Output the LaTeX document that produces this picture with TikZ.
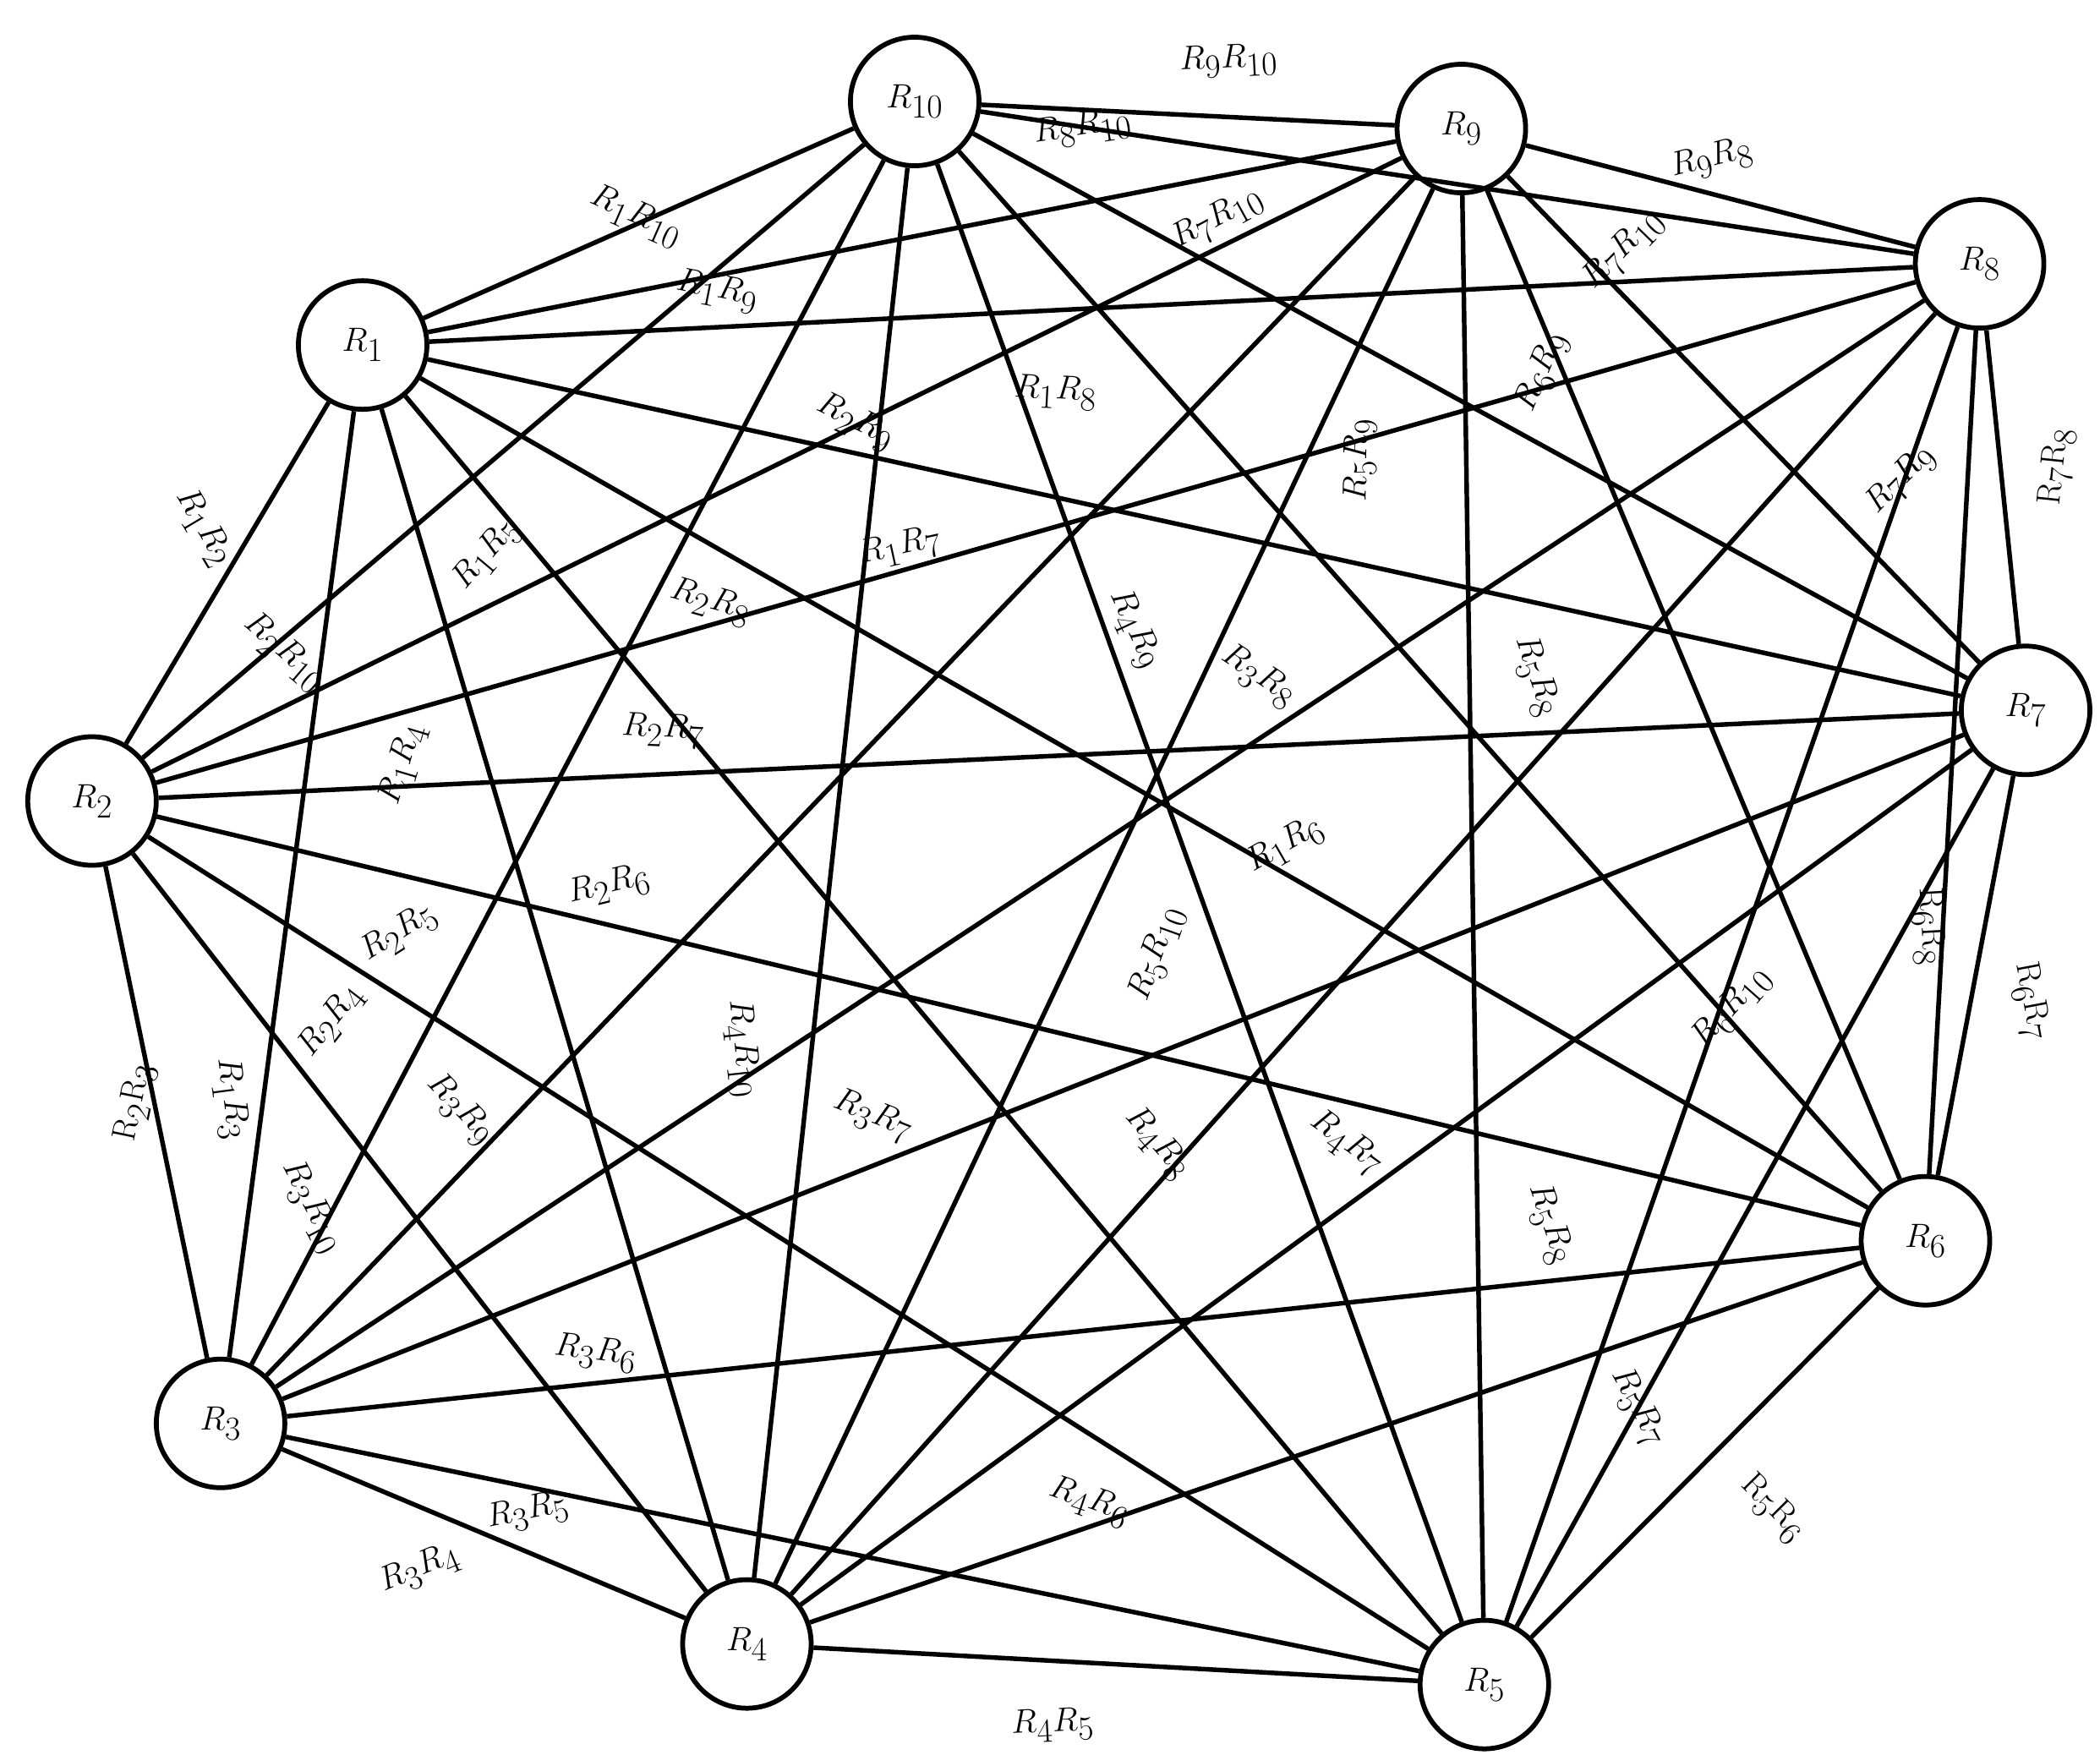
\documentclass[tikz,border=0pt]{standalone}
\usetikzlibrary{calc}
\begin{document}
\begin{tikzpicture}[x=1pt,y=-1pt,
  rnode/.style={circle,draw,line width=3.6pt,minimum size=95pt,inner sep=0pt,font=\fontsize{36}{40}\selectfont},
  lab/.style={inner sep=1pt,font=\fontsize{36}{40}\selectfont},
  edge/.style={line width=3.4pt}]
\useasboundingbox (0,0) rectangle (1552,1297);
\node[rnode] (1) at (268,255) {$R_1$};
\node[rnode] (2) at (68,592) {$R_2$};
\node[rnode] (3) at (163,1052) {$R_3$};
\node[rnode] (4) at (552,1215) {$R_4$};
\node[rnode] (5) at (1097,1245) {$R_5$};
\node[rnode] (6) at (1423,917) {$R_6$};
\node[rnode] (7) at (1497,525) {$R_7$};
\node[rnode] (8) at (1463,195) {$R_8$};
\node[rnode] (9) at (1080,95) {$R_9$};
\node[rnode] (10) at (676,75) {$R_{10}$};
\foreach \a/\bl in {1/{2,3,4,5,6,7,8,9,10},2/{3,4,5,6,7,8,9,10},3/{4,5,6,7,8,9,10},4/{5,6,7,8,9,10},5/{6,7,8,9,10},6/{7,8,9,10},7/{8,9,10},8/{9,10},9/{10}}
  \foreach \b in \bl \draw[edge] (\a) -- (\b);
\newcommand\lab[5]{\path let \p1=($(#4)-(#3)$) in node[lab,rotate={-atan(\y1/\x1)}] at (#1,#2) {$#5$};}
\lab{908}{45}{10}{9}{R_9R_{10}}
\lab{800}{95}{10}{8}{R_8R_{10}}
\lab{900}{162}{10}{7}{R_7R_{10}}
\lab{1265}{118}{9}{8}{R_9R_8}
\lab{1200}{185}{9}{7}{R_7R_{10}}
\lab{1140}{275}{9}{6}{R_6R_9}
\lab{1405}{355}{9}{7}{R_7R_9}
\lab{1520}{345}{8}{7}{\mathrm{R_7R_8}}
\lab{1005}{340}{5}{9}{R_5R_9}
\lab{470}{160}{1}{10}{R_1R_{10}}
\lab{530}{215}{1}{9}{R_1R_9}
\lab{780}{290}{1}{8}{R_1R_8}
\lab{632}{312}{2}{9}{R_2R_9}
\lab{665}{405}{1}{7}{R_1R_7}
\lab{360}{410}{1}{5}{R_1R_5}
\lab{150}{390}{1}{2}{R_1R_2}
\lab{210}{482}{2}{10}{R_2R_{10}}
\lab{525}{445}{2}{8}{R_2R_8}
\lab{838}{465}{4}{9}{R_4R_9}
\lab{930}{500}{3}{8}{R_3R_8}
\lab{1135}{500}{5}{8}{R_5R_8}
\lab{298}{565}{1}{4}{R_1R_4}
\lab{490}{540}{2}{7}{R_2R_7}
\lab{950}{625}{1}{6}{R_1R_6}
\lab{450}{655}{2}{6}{R_2R_6}
\lab{295}{690}{2}{5}{R_2R_5}
\lab{1425}{685}{6}{8}{\mathrm{R_6R_8}}
\lab{1500}{740}{6}{7}{\mathrm{R_6R_7}}
\lab{855}{705}{5}{10}{R_5R_{10}}
\lab{1280}{745}{6}{10}{R_6R_{10}}
\lab{245}{755}{2}{4}{R_2R_4}
\lab{100}{815}{2}{3}{\mathrm{R_2R_3}}
\lab{170}{812}{1}{3}{R_1R_3}
\lab{548}{775}{4}{10}{R_4R_{10}}
\lab{340}{820}{3}{9}{R_3R_9}
\lab{645}{825}{3}{7}{R_3R_7}
\lab{855}{845}{4}{8}{R_4R_8}
\lab{995}{845}{4}{7}{R_4R_7}
\lab{230}{892}{3}{10}{R_3R_{10}}
\lab{1145}{905}{5}{8}{R_5R_8}
\lab{440}{1000}{3}{6}{R_3R_6}
\lab{1210}{1040}{5}{7}{R_5R_7}
\lab{805}{1110}{4}{6}{R_4R_6}
\lab{390}{1118}{3}{5}{R_3R_5}
\lab{310}{1160}{3}{4}{R_3R_4}
\lab{1310}{1115}{5}{6}{\mathrm{R_5R_6}}
\lab{778}{1275}{4}{5}{R_4R_5}
\end{tikzpicture}
\end{document}
